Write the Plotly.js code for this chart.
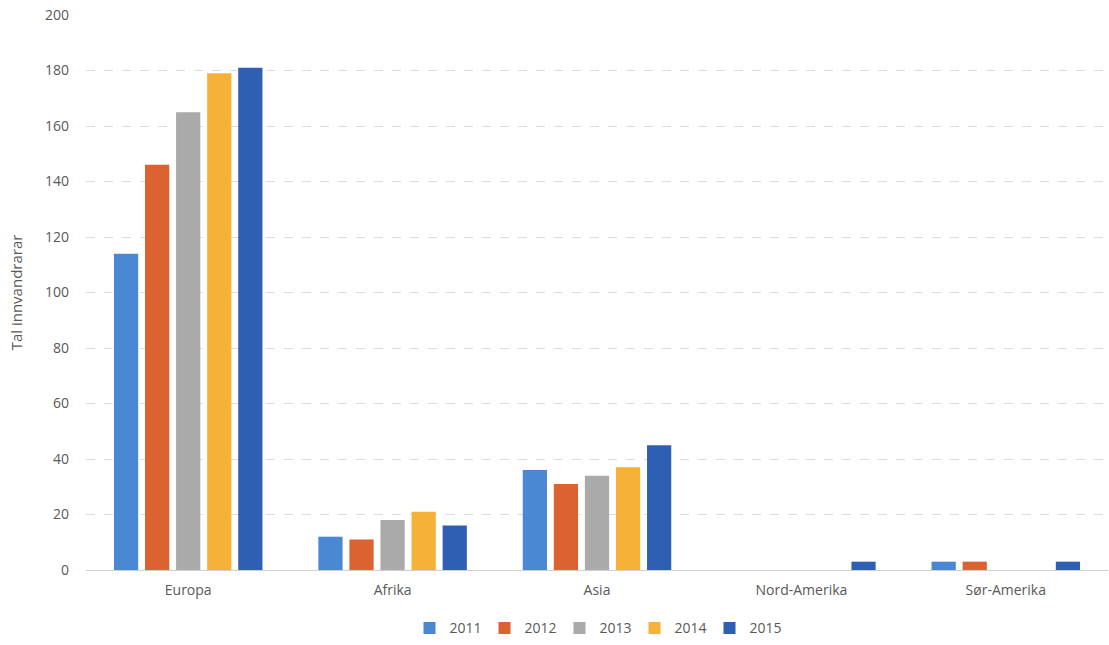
<!DOCTYPE html>
<html>
<head>
<meta charset="utf-8">
<script src="https://cdn.plot.ly/plotly-3.0.1.min.js"></script>
<style>html,body{margin:0;padding:0;background:#fff;}#chart{width:1109px;height:645px;}</style>
</head>
<body>
<div id="chart"></div>
<script>
const categories = ["Europa", "Afrika", "Asia", "Nord-Amerika", "Sør-Amerika"];
const years = ["2011", "2012", "2013", "2014", "2015"];
const v2011 = [114, 12, 36, 0, 3];
const v2012 = [146, 11, 31, 0, 3];
const v2013 = [165, 18, 34, 0, 0];
const v2014 = [179, 21, 37, 0, 0];
const v2015 = [181, 16, 45, 3, 3];
const colors = ["#4a88d3", "#dc6232", "#aaaaaa", "#f6b238", "#2f5fb3"];
const series = [v2011, v2012, v2013, v2014, v2015];

const traces = series.map((vals, i) => ({
  type: "bar",
  name: years[i],
  x: categories,
  y: vals,
  marker: {color: colors[i]},
  hoverinfo: "x+y+name"
}));

const layout = {
  width: 1109, height: 645,
  margin: {l: 86, r: 1, t: 15, b: 75},
  paper_bgcolor: "#fff", plot_bgcolor: "#fff",
  font: {family: "Open Sans, Noto Sans, sans-serif", size: 14, color: "#595959"},
  barmode: "group",
  bargap: 0.24,
  bargroupgap: 0.22,
  showlegend: true,
  legend: {orientation: "h", x: 0.5, xanchor: "center", y: -0.105, yanchor: "middle",
           font: {size: 14, color: "#595959"}, itemwidth: 30, traceorder: "normal",
           entrywidth: 30, entrywidthmode: "pixels"},
  xaxis: {
    showgrid: false, zeroline: false, showline: false, ticks: "",
    ticklabelstandoff: 10,
    tickfont: {size: 14, color: "#595959"}
  },
  yaxis: {
    range: [0, 200], dtick: 20, tick0: 0,
    showgrid: true, gridcolor: "#dcdcdc", griddash: "dash", gridwidth: 1,
    zeroline: true, zerolinecolor: "#d0d0d0", zerolinewidth: 1,
    showline: false, ticks: "", ticklabelstandoff: 16,
    tickfont: {size: 14, color: "#595959"},
    title: {text: "Tal innvandrarar", font: {size: 15, color: "#595959"}, standoff: 18}
  }
};

Plotly.newPlot("chart", traces, layout, {displayModeBar: false, responsive: false});
</script>
</body>
</html>
